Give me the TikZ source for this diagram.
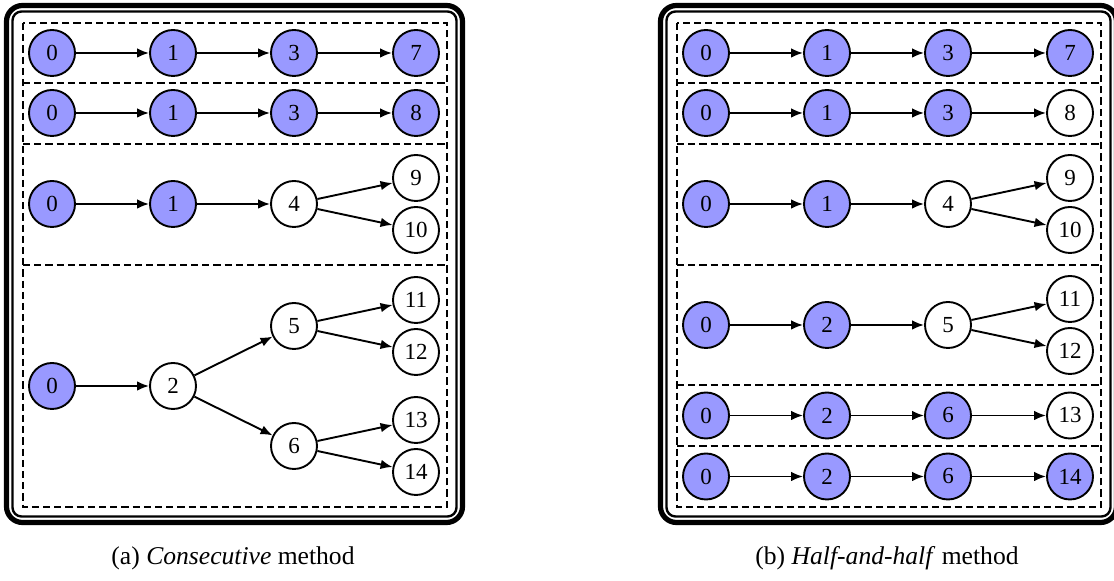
\documentclass[tikz,border=0pt]{standalone}
\usepackage{fontspec}
\setmainfont{Liberation Serif}
\usetikzlibrary{arrows.meta}
\definecolor{hitblue}{RGB}{153,153,255}

\begin{document}
\begin{tikzpicture}[x=0.5pt,y=-0.5pt,
  vtx/.style={circle,draw,line width=0.95pt,minimum size=23pt,inner sep=0pt,
              font=\fontsize{11.5}{12}\selectfont},
  hit/.style={vtx,fill=hitblue},
  edge/.style={line width=0.95pt,-{Latex[length=6pt,width=4.8pt]}},
  group/.style={dash pattern=on 3.6pt off 2pt,line width=0.9pt},
  outerframe/.style={line width=2.6pt,rounded corners=8pt},
  innerframe/.style={line width=1.2pt,rounded corners=4.5pt},
  caption/.style={font=\fontsize{12.8}{15}\selectfont}]
\useasboundingbox (0,0) rectangle (1114,581);

% ---------------- (a) Consecutive method ----------------
\draw[outerframe] (6.5,5.5) rectangle (462.5,522.5);
\draw[innerframe] (12.5,11.5) rectangle (456.5,516.5);
\draw[group] (23,23) rectangle (447,507);
\draw[group] (23,83) -- (447,83);
\draw[group] (23,144) -- (447,144);
\draw[group] (23,265) -- (447,265);

% path to 7
\node[hit] (a10) at (52,53) {0};
\node[hit] (a11) at (173,53) {1};
\node[hit] (a13) at (294,53) {3};
\node[hit] (a17) at (416,53) {7};
\draw[edge] (a10) -- (a11);
\draw[edge] (a11) -- (a13);
\draw[edge] (a13) -- (a17);

% path to 8
\node[hit] (a20) at (52,113) {0};
\node[hit] (a21) at (173,113) {1};
\node[hit] (a23) at (294,113) {3};
\node[hit] (a28) at (416,113) {8};
\draw[edge] (a20) -- (a21);
\draw[edge] (a21) -- (a23);
\draw[edge] (a23) -- (a28);

% subtree under 4
\node[hit] (a30) at (52,204) {0};
\node[hit] (a31) at (173,204) {1};
\node[vtx] (a34) at (294,204) {4};
\node[vtx] (a39) at (416,178) {9};
\node[vtx] (a310) at (416,230) {10};
\draw[edge] (a30) -- (a31);
\draw[edge] (a31) -- (a34);
\draw[edge] (a34) -- (a39);
\draw[edge] (a34) -- (a310);

% subtree under 2
\node[hit] (a40) at (52,386) {0};
\node[vtx] (a42) at (173,386) {2};
\node[vtx] (a45) at (294,326) {5};
\node[vtx] (a46) at (294,446) {6};
\node[vtx] (a411) at (416,300) {11};
\node[vtx] (a412) at (416,352) {12};
\node[vtx] (a413) at (416,420) {13};
\node[vtx] (a414) at (416,472) {14};
\draw[edge] (a40) -- (a42);
\draw[edge] (a42) -- (a45);
\draw[edge] (a42) -- (a46);
\draw[edge] (a45) -- (a411);
\draw[edge] (a45) -- (a412);
\draw[edge] (a46) -- (a413);
\draw[edge] (a46) -- (a414);

\node[caption] (capa) at (233,558) {(a) \textit{Consecutive} method};

% ---------------- (b) Half-and-half method ----------------
\begin{scope}[xshift=327pt]
\draw[outerframe] (6.5,5.5) rectangle (462.5,522.5);
\draw[innerframe] (12.5,11.5) rectangle (456.5,516.5);
\draw[group] (23,23) rectangle (447,507);
\draw[group] (23,83) -- (447,83);
\draw[group] (23,144) -- (447,144);
\draw[group] (23,265) -- (447,265);
\draw[group] (23,385) -- (447,385);
\draw[group] (23,446) -- (447,446);

% path to 7
\node[hit] (b10) at (52,53) {0};
\node[hit] (b11) at (173,53) {1};
\node[hit] (b13) at (294,53) {3};
\node[hit] (b17) at (416,53) {7};
\draw[edge] (b10) -- (b11);
\draw[edge] (b11) -- (b13);
\draw[edge] (b13) -- (b17);

% path to 8
\node[hit] (b20) at (52,113) {0};
\node[hit] (b21) at (173,113) {1};
\node[hit] (b23) at (294,113) {3};
\node[vtx] (b28) at (416,113) {8};
\draw[edge] (b20) -- (b21);
\draw[edge] (b21) -- (b23);
\draw[edge] (b23) -- (b28);

% subtree under 4
\node[hit] (b30) at (52,204) {0};
\node[hit] (b31) at (173,204) {1};
\node[vtx] (b34) at (294,204) {4};
\node[vtx] (b39) at (416,178) {9};
\node[vtx] (b310) at (416,230) {10};
\draw[edge] (b30) -- (b31);
\draw[edge] (b31) -- (b34);
\draw[edge] (b34) -- (b39);
\draw[edge] (b34) -- (b310);

% subtree under 5
\node[hit] (b40) at (52,325) {0};
\node[hit] (b42) at (173,325) {2};
\node[vtx] (b45) at (294,325) {5};
\node[vtx] (b411) at (416,299) {11};
\node[vtx] (b412) at (416,351) {12};
\draw[edge] (b40) -- (b42);
\draw[edge] (b42) -- (b45);
\draw[edge] (b45) -- (b411);
\draw[edge] (b45) -- (b412);

% path to 13
\node[hit] (b50) at (52,415.5) {0};
\node[hit] (b52) at (173,415.5) {2};
\node[hit] (b56) at (294,415.5) {6};
\node[vtx] (b513) at (416,415.5) {13};
\draw[edge] (b50) -- (b52);
\draw[edge] (b52) -- (b56);
\draw[edge] (b56) -- (b513);

% path to 14
\node[hit] (b60) at (52,476.5) {0};
\node[hit] (b62) at (173,476.5) {2};
\node[hit] (b66) at (294,476.5) {6};
\node[hit] (b614) at (416,476.5) {14};
\draw[edge] (b60) -- (b62);
\draw[edge] (b62) -- (b66);
\draw[edge] (b66) -- (b614);

\node[caption] (capb) at (233,558) {(b) \textit{Half-and-half} method};
\end{scope}
\end{tikzpicture}
\end{document}
